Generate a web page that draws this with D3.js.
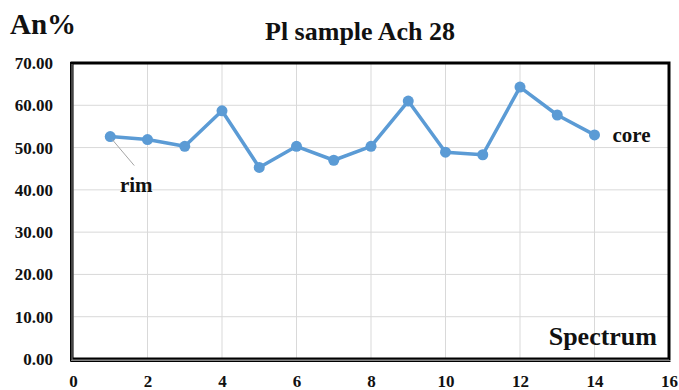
<!DOCTYPE html>
<html>
<head>
<meta charset="utf-8">
<script src="https://cdn.jsdelivr.net/npm/d3@7"></script>
<style>
  body { margin: 0; background: #fff; }
  svg text { font-family: "Liberation Serif", "DejaVu Serif", serif !important; font-weight: bold; }
</style>
</head>
<body>
<div id="chart"></div>
<script>
// data
const spectrum = [1, 2, 3, 4, 5, 6, 7, 8, 9, 10, 11, 12, 13, 14];
const anPercent = [52.6, 51.9, 50.3, 58.7, 45.3, 50.3, 47.0, 50.3, 61.0, 48.9, 48.3, 64.3, 57.7, 53.0];
const xTicks = [0, 2, 4, 6, 8, 10, 12, 14, 16];
const yTicks = [0, 10, 20, 30, 40, 50, 60, 70];

const outerWidth = 679;
const outerHeight = 390;
const margin = { top: 63, right: 10, bottom: 31, left: 73 };
const width = outerWidth - margin.left - margin.right;
const height = outerHeight - margin.top - margin.bottom;

const svg = d3.select('#chart')
  .append('svg')
  .attr('width', outerWidth)
  .attr('height', outerHeight);

const g = svg.append('g')
  .attr('transform', `translate(${margin.left},${margin.top})`);

const x = d3.scaleLinear().domain([0, 16]).range([0, 596]);
const y = d3.scaleLinear().domain([0, 70]).range([height, 0]);

// grid
g.append('g')
  .selectAll('line')
  .data(yTicks)
  .enter()
  .append('line')
    .attr('x1', 0)
    .attr('x2', x(16))
    .attr('y1', d => y(d))
    .attr('y2', d => y(d))
    .attr('stroke', '#d9d9d9')
    .attr('stroke-width', 1);

g.append('g')
  .selectAll('line')
  .data(xTicks)
  .enter()
  .append('line')
    .attr('x1', d => x(d))
    .attr('x2', d => x(d))
    .attr('y1', 0)
    .attr('y2', height)
    .attr('stroke', '#d9d9d9')
    .attr('stroke-width', 1);

// frame: thick black, double line on left and bottom
g.append('rect')
  .attr('x', -1)
  .attr('y', 0)
  .attr('width', x(16) + 1)
  .attr('height', height)
  .attr('fill', 'none')
  .attr('stroke', '#000')
  .attr('stroke-width', 3);

g.append('path')
  .attr('d', `M-2.5,-1V${height + 2.5}H${x(16) + 1.5}`)
  .attr('fill', 'none')
  .attr('stroke', '#000')
  .attr('stroke-width', 1);

g.append('path')
  .attr('d', `M-1,1V${height + 1}H${x(16)}`)
  .attr('fill', 'none')
  .attr('stroke', '#888')
  .attr('stroke-width', 1);

// axes labels
const yAxis = d3.axisLeft(y)
  .tickValues(yTicks)
  .tickSize(0)
  .tickPadding(20)
  .tickFormat(d3.format('.2f'));

const yAxisG = g.append('g').call(yAxis).attr('font-size', 17);
yAxisG.select('.domain').remove();
yAxisG.selectAll('text').style('font-size', '17px').attr('fill', '#111');

const xAxis = d3.axisBottom(x)
  .tickValues(xTicks)
  .tickSize(0)
  .tickPadding(16)
  .tickFormat(d3.format('d'));

const xAxisG = g.append('g')
  .attr('transform', `translate(0,${height})`)
  .call(xAxis)
  .attr('font-size', 17);
xAxisG.select('.domain').remove();
xAxisG.selectAll('text').style('font-size', '17px').attr('fill', '#111');

// series
const line = d3.line()
  .x((d, i) => x(spectrum[i]))
  .y(d => y(d));

g.append('path')
  .datum(anPercent)
  .attr('d', line)
  .attr('fill', 'none')
  .attr('stroke', '#5b9bd5')
  .attr('stroke-width', 3.5)
  .attr('stroke-linejoin', 'round');

g.append('g')
  .selectAll('circle')
  .data(anPercent)
  .enter()
  .append('circle')
    .attr('cx', (d, i) => x(spectrum[i]))
    .attr('cy', d => y(d))
    .attr('r', 5.5)
    .attr('fill', '#5b9bd5');

// rim / core annotations
const first = anPercent[0];
g.append('line')
  .attr('x1', x(spectrum[0]) + 2)
  .attr('y1', y(first) + 3)
  .attr('x2', x(spectrum[0]) + 24)
  .attr('y2', y(first) + 29)
  .attr('stroke', '#a6a6a6')
  .attr('stroke-width', 1);

g.append('text')
  .attr('x', x(spectrum[0]) + 26)
  .attr('y', y(first) + 55)
  .attr('text-anchor', 'middle')
  .attr('font-size', '21px')
  .attr('fill', '#111')
  .text('rim');

const last = anPercent[anPercent.length - 1];
g.append('text')
  .attr('x', x(spectrum[spectrum.length - 1]) + 18)
  .attr('y', y(last) + 7)
  .attr('font-size', '21px')
  .attr('fill', '#111')
  .text('core');

g.append('text')
  .attr('x', x(16) - 12)
  .attr('y', height - 14)
  .attr('text-anchor', 'end')
  .attr('font-size', '26px')
  .attr('fill', '#111')
  .text('Spectrum');

// titles
svg.append('text')
  .attr('x', 360)
  .attr('y', 40)
  .attr('text-anchor', 'middle')
  .attr('font-size', '26px')
  .attr('fill', '#111')
  .text('Pl sample Ach 28');

svg.append('text')
  .attr('x', 10)
  .attr('y', 34)
  .attr('font-size', '29px')
  .attr('fill', '#111')
  .text('An%');
</script>
</body>
</html>
